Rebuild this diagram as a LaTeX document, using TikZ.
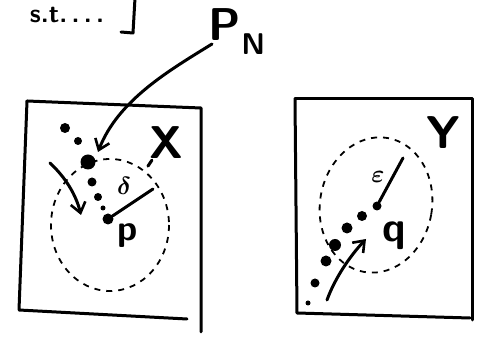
\documentclass[tikz,border=0pt]{standalone}
\usepackage{tikz}
\usetikzlibrary{arrows.meta}
\tikzset{
  pen/.style={line width=3pt, line cap=round, line join=round},
  blob/.style={circle, fill, inner sep=0pt, minimum size=#1},
  ballline/.style={line width=1.8pt, dash pattern=on 6pt off 6pt},
  curvearrow/.style={pen, -{Straight Barb[length=10pt, width=15pt, line width=2.6pt]}},
  hand/.style={font=\sffamily\bfseries\fontsize{#1}{#1}\selectfont, inner sep=0pt}
}
\begin{document}
\begin{tikzpicture}[x=1pt, y=-1pt]
\useasboundingbox (0,0) rectangle (483,339);
% Top: tail of the statement
\node[hand=26] (st) at (67,15) {s.t.\,.\,.\,.};
\draw[pen] (135,-2) -- (133,33) -- (121,32);
\node[hand=46] (PN) at (237,32) {P\raisebox{-14pt}{\fontsize{30}{30}\selectfont N}};
% Left: box X with the ball around p
\begin{scope}
\draw[pen] (27,101) -- (201,108) -- (201,332);
\draw[pen] (27,101) -- (19,310) -- (187,319);
\node[hand=46] (X) at (166,143) {X};
\draw[pen] (X.south west) ++(3,1) -- ++(-4,6);
\coordinate (p) at (108,219);
\draw[ballline] (p) ++(2,6) ellipse[x radius=59, y radius=66];
\foreach \x/\y/\s in {65/128/10, 78/141/8, 88/162/15, 92/182/9, 98/197/8, 103/208/5}
  \node[blob=\s pt] at (\x,\y) {};
\node[blob=11pt] (pdot) at (p) {};
\coordinate (delta end) at (153,189);
\draw[pen] (pdot) -- (delta end);
\node[font=\boldmath\fontsize{32}{32}\selectfont] (delta) at (124,186) {$\delta$};
\node[hand=36] (plab) at (128,236) {p};
\coordinate (PN tail) at (212,44);
\coordinate (PN head) at (98,152);
\draw[curvearrow] (PN tail) .. controls (170,70) and (118,100) .. (PN head);
\coordinate (fall tail) at (50,163);
\coordinate (fall head) at (81,215);
\draw[curvearrow] (fall tail) .. controls (66,178) and (76,195) .. (fall head);
\end{scope}
% Right: box Y with the ball around q
\begin{scope}
\draw[pen] (295,99) -- (472,99) -- (472,320);
\draw[pen] (295,99) -- (297,313) -- (470,318);
\node[hand=46] (Y) at (443,133) {Y};
\coordinate (q) at (377,206);
\draw[ballline, rotate around={-10:(376,205)}] (376,205) ellipse[x radius=56, y radius=68];
\foreach \x/\y/\s in {362/216/10, 347/228/11, 335/245/12, 326/261/11, 315/283/9, 308/303/5}
  \node[blob=\s pt] at (\x,\y) {};
\node[blob=9pt] (qdot) at (q) {};
\coordinate (eps end) at (403,158);
\draw[pen] (qdot) -- (eps end);
\node[font=\boldmath\fontsize{32}{32}\selectfont] (eps) at (378,177) {$\varepsilon$};
\node[hand=42] (qlab) at (394,236) {q};
\coordinate (rise tail) at (327,300);
\coordinate (rise head) at (366,239);
\draw[curvearrow] (rise tail) .. controls (335,278) and (350,256) .. (rise head);
\end{scope}
\end{tikzpicture}
\end{document}
